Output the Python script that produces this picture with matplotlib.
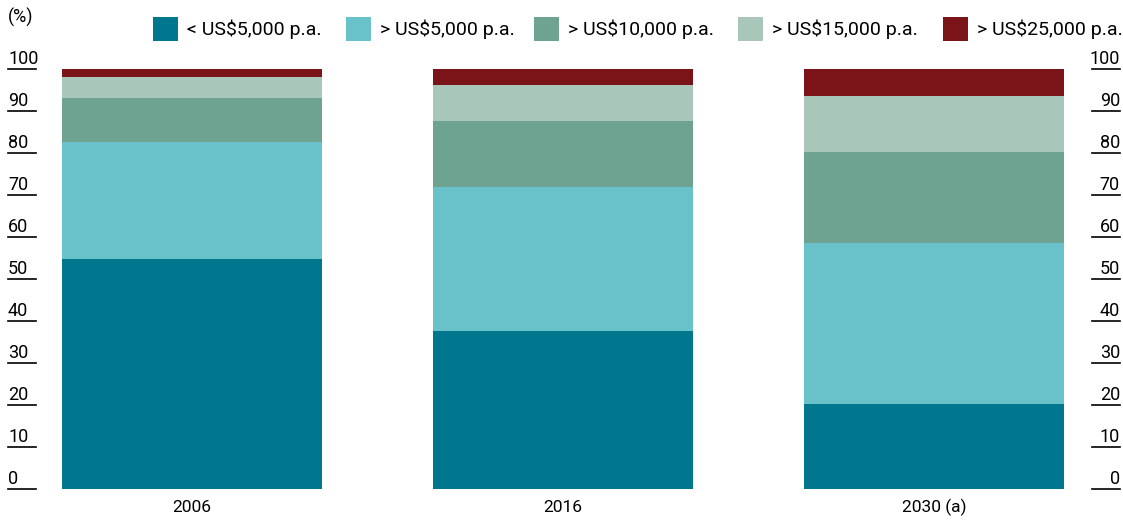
import matplotlib.pyplot as plt
from matplotlib.patches import Rectangle
import numpy as np

plt.rcParams["font.family"] = ["Roboto", "DejaVu Sans"]

years = ["2006", "2016", "2030 (a)"]
series = ["< US$5,000 p.a.", "> US$5,000 p.a.", "> US$10,000 p.a.",
          "> US$15,000 p.a.", "> US$25,000 p.a."]
under_5k = [54.8, 37.6, 20.2]
over_5k = [27.8, 34.3, 38.4]
over_10k = [10.4, 15.7, 21.6]
over_15k = [5.0, 8.6, 13.4]
over_25k = [2.0, 3.8, 6.4]
yticks = [0, 10, 20, 30, 40, 50, 60, 70, 80, 90, 100]

colors = ["#00778f", "#69c2c9", "#6ea291", "#a9c6bb", "#7a1419"]
values = [under_5k, over_5k, over_10k, over_15k, over_25k]

W, H = 1123, 521
fig = plt.figure(figsize=(W / 100, H / 100), dpi=100)
ax = fig.add_axes([62 / W, 1 - 489 / H, (1064 - 62) / W, 420 / H])

x = np.arange(len(years))
bottom = np.zeros(len(years))
for vals, col in zip(values, colors):
    ax.bar(x, vals, width=0.70, bottom=bottom, color=col, linewidth=0)
    bottom += np.array(vals)

ax.set_xlim(-0.35, 2.35)
ax.set_ylim(0, 100)
ax.set_xticks([])
ax.set_yticks([])
for s in ax.spines.values():
    s.set_visible(False)

# year labels under bars
for xi, lab in zip(x, years):
    ax.text(xi, -4.3, lab, ha="center", va="center", fontsize=12.5)

# short tick lines with the value sitting on top, on both sides
for t in yticks:
    yf = 1 - (489 - 4.2 * t) / H
    fig.add_artist(plt.Line2D([8 / W, 36 / W], [yf, yf], color="black", lw=1.2))
    fig.add_artist(plt.Line2D([1092 / W, 1120 / W], [yf, yf], color="black", lw=1.2))
    ypx = yf + 5 / H
    fig.text(8 / W, ypx, str(t), ha="left", va="baseline", fontsize=13)
    fig.text(1120 / W, ypx, str(t), ha="right", va="baseline", fontsize=13)

fig.text(8 / W, 1 - 17 / H, "(%)", ha="left", va="center", fontsize=13)

# legend across the top
sq_x = [153, 346, 534, 738, 943]
for sx, col, lab in zip(sq_x, colors, series):
    fig.add_artist(Rectangle((sx / W, 1 - 41 / H), 25 / W, 24 / H,
                             transform=fig.transFigure, color=col, lw=0))
    fig.text((sx + 34) / W, 1 - 29 / H, lab, ha="left", va="center",
             fontsize=14)

fig.savefig("out.png", dpi=100)
